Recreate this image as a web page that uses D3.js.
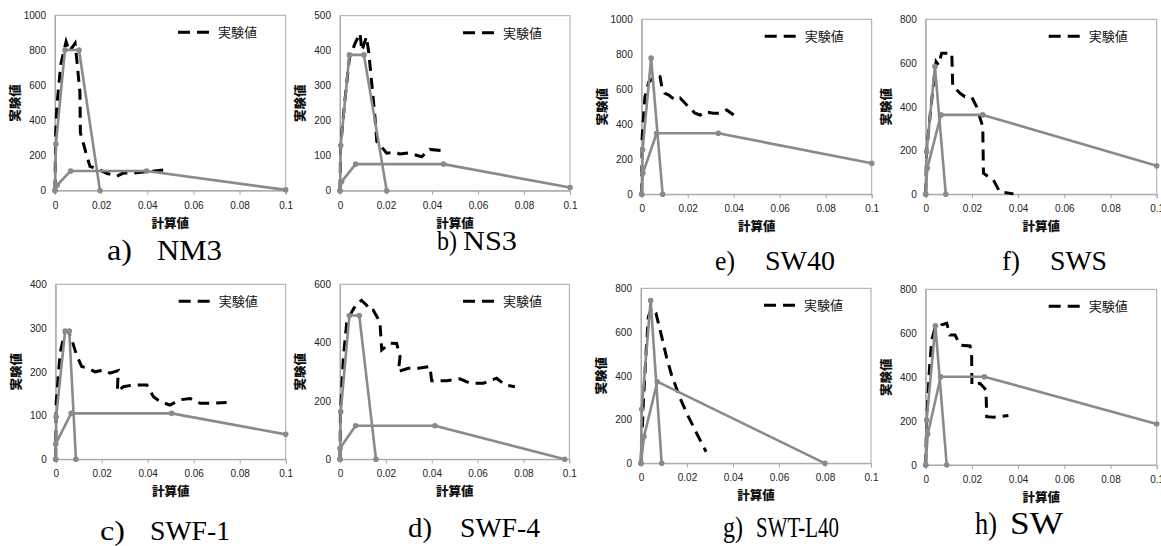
<!DOCTYPE html>
<html>
<head>
<meta charset="utf-8">
<script src="https://cdn.jsdelivr.net/npm/d3@7"></script>
<style>
  body { margin: 0; background: #fff; }
  svg { display: block; }
</style>
</head>
<body>
<div id="caja"></div>
<script>
// 計算値 / 実験値 : each panel has two gray calc lines and one dashed experiment line
var xTicks = [0, 0.02, 0.04, 0.06, 0.08, 0.1];

// a) NM3
var nm3Calc1 = [[0,0],[0.0004,266],[0.0043,802],[0.0104,802],[0.0195,0]];
var nm3Calc2 = [[0,0],[0.001,32],[0.0068,112],[0.0397,112],[0.1,4]];
var nm3Exp = [[0,0],[0.0003,330],[0.0008,480],[0.0015,580],[0.0025,720],[0.0048,850],[0.0062,793],[0.0087,840],[0.0095,740],[0.0108,560],[0.011,330],[0.0125,260],[0.0137,200],[0.0152,137],[0.0173,130],[0.0224,99],[0.0267,82],[0.0296,100],[0.034,100],[0.04,108],[0.047,118]];
var nm3YTicks = [0, 200, 400, 600, 800, 1000];

// b) NS3
var ns3Calc1 = [[0,0],[0.0003,129],[0.0041,388],[0.0104,388],[0.0203,0]];
var ns3Calc2 = [[0,0],[0.0007,26],[0.0068,76],[0.045,76],[0.1,9]];
var ns3Exp = [[0,0],[0.0003,130],[0.002,250],[0.0041,380],[0.0065,420],[0.0087,450],[0.0095,400],[0.0115,440],[0.0125,395],[0.0138,307],[0.0152,211],[0.016,140],[0.018,126],[0.0203,107],[0.024,110],[0.026,105],[0.0297,108],[0.0355,97],[0.039,118],[0.0457,114]];
var ns3YTicks = [0, 100, 200, 300, 400, 500];

// c) SWF-1
var swf1Calc1 = [[0,0],[0.0002,97],[0.0041,293],[0.0059,293],[0.0088,0]];
var swf1Calc2 = [[0,0],[0,35],[0.0067,105],[0.0504,105],[0.1,57]];
var swf1Exp = [[0,0],[0.0002,128],[0.0019,242],[0.004,293],[0.0055,292],[0.007,273],[0.0091,238],[0.0113,212],[0.0142,208],[0.0171,200],[0.0207,204],[0.0236,197],[0.0272,203],[0.0268,155],[0.0294,166],[0.0338,170],[0.0396,170],[0.0425,143],[0.0454,132],[0.0497,124],[0.054,136],[0.0584,139],[0.0628,128],[0.0686,128],[0.0743,130]];
var swf1YTicks = [0, 100, 200, 300, 400];

// d) SWF-4
var swf4Calc1 = [[0,0],[0.0003,163],[0.0041,493],[0.0084,493],[0.0157,0]];
var swf4Calc2 = [[0,0],[0,38],[0.0068,115],[0.0414,115],[0.098,0]];
var swf4Exp = [[0,0],[0.0002,160],[0.0015,352],[0.0029,466],[0.0051,505],[0.0073,534],[0.0094,545],[0.0116,528],[0.0131,509],[0.0145,511],[0.0174,471],[0.0182,375],[0.0218,398],[0.0247,397],[0.0262,352],[0.0254,301],[0.0298,312],[0.0342,312],[0.0392,318],[0.04,269],[0.0465,269],[0.0523,276],[0.0567,261],[0.0625,261],[0.0683,278],[0.072,255],[0.0763,249]];
var swf4YTicks = [0, 200, 400, 600];

// e) SW40
var sw40Calc1 = [[0,0],[0.0004,255],[0.0041,778],[0.0091,0]];
var sw40Calc2 = [[0,0],[0.0005,120],[0.0065,349],[0.0333,349],[0.1,177]];
var sw40Exp = [[0,0],[0.0002,330],[0.0014,558],[0.003,640],[0.0065,682],[0.008,672],[0.0087,615],[0.0101,577],[0.0116,568],[0.0145,539],[0.0167,550],[0.0196,510],[0.0232,463],[0.0254,453],[0.0275,472],[0.031,463],[0.034,463],[0.037,482],[0.04,453]];
var sw40YTicks = [0, 200, 400, 600, 800, 1000];

// f) SWS
var swsCalc1 = [[0,0],[0.0004,195],[0.004,584],[0.0087,0]];
var swsCalc2 = [[0,0],[0.0007,119],[0.0066,363],[0.0247,363],[0.1,130]];
var swsExp = [[0,0],[0.0004,200],[0.0026,431],[0.0045,606],[0.0055,591],[0.0069,645],[0.0113,645],[0.0117,492],[0.0127,485],[0.0149,462],[0.017,446],[0.02,443],[0.022,401],[0.0247,309],[0.025,96],[0.0293,66],[0.032,12],[0.038,2]];
var swsYTicks = [0, 200, 400, 600, 800];

// g) SWT-L40
var swtCalc1 = [[0,0],[0.0003,247],[0.0042,744],[0.009,0]];
var swtCalc2 = [[0,0],[0.0013,122],[0.0071,373],[0.08,0]];
var swtExp = [[0,0],[0.001,274],[0.0022,503],[0.0032,670],[0.0046,709],[0.0065,686],[0.009,579],[0.0112,480],[0.0133,404],[0.017,297],[0.0206,213],[0.0242,137],[0.0283,53]];
var swtYTicks = [0, 200, 400, 600, 800];

// h) SW
var swCalc1 = [[0,0],[0.0004,205],[0.0042,634],[0.0091,0]];
var swCalc2 = [[0,0],[0.0009,141],[0.0065,402],[0.0254,402],[0.1,187]];
var swExp = [[0,0],[0.0004,200],[0.0016,433],[0.0026,569],[0.004,622],[0.0062,630],[0.0069,638],[0.0091,645],[0.0105,592],[0.0127,592],[0.0149,546],[0.0192,542],[0.0199,493],[0.02,364],[0.0235,372],[0.0261,342],[0.0264,220],[0.0293,217],[0.0322,220],[0.0358,225]];
var swYTicks = [0, 200, 400, 600, 800];

var w = 1161, h = 546;
var gray = "#8a8a8a";

var chart = d3.select('#caja')
  .append('svg')
  .attr('width', w)
  .attr('height', h);

// placement of each small chart and its caption (x1/w1 = letter, x2/w2 = name)
var panels = [
  {c1: nm3Calc1, c2: nm3Calc2, exp: nm3Exp, yt: nm3YTicks, l: 55, t: 15.3, pw: 230.7, ph: 175.3,
   cap: "a)", name: "NM3", x1: 107, w1: 25, x2: 157, w2: 65, cy: 260, fs: 30},
  {c1: ns3Calc1, c2: ns3Calc2, exp: ns3Exp, yt: ns3YTicks, l: 340, t: 15.7, pw: 230, ph: 175,
   cap: "b)", name: "NS3", x1: 437, w1: 20, x2: 463, w2: 54, cy: 250, fs: 28},
  {c1: swf1Calc1, c2: swf1Calc2, exp: swf1Exp, yt: swf1YTicks, l: 55.7, t: 284.3, pw: 230, ph: 175,
   cap: "c)", name: "SWF-1", x1: 100, w1: 25, x2: 150, w2: 80, cy: 540, fs: 28},
  {c1: swf4Calc1, c2: swf4Calc2, exp: swf4Exp, yt: swf4YTicks, l: 340, t: 284.3, pw: 229.3, ph: 175,
   cap: "d)", name: "SWF-4", x1: 408, w1: 24, x2: 460, w2: 80, cy: 537, fs: 28},
  {c1: sw40Calc1, c2: sw40Calc2, exp: sw40Exp, yt: sw40YTicks, l: 641.7, t: 19.3, pw: 230, ph: 175,
   cap: "e)", name: "SW40", x1: 715, w1: 20, x2: 765, w2: 70, cy: 270, fs: 28},
  {c1: swsCalc1, c2: swsCalc2, exp: swsExp, yt: swsYTicks, l: 925.7, t: 19.3, pw: 231, ph: 175,
   cap: "f)", name: "SWS", x1: 1002, w1: 18, x2: 1050, w2: 57, cy: 270, fs: 28},
  {c1: swtCalc1, c2: swtCalc2, exp: swtExp, yt: swtYTicks, l: 641, t: 288.3, pw: 230, ph: 175,
   cap: "g)", name: "SWT-L40", x1: 723, w1: 20, x2: 756, w2: 83, cy: 537, fs: 29},
  {c1: swCalc1, c2: swCalc2, exp: swExp, yt: swYTicks, l: 925.7, t: 289.3, pw: 231, ph: 175.7,
   cap: "h)", name: "SW", x1: 975, w1: 22, x2: 1010, w2: 53, cy: 534, fs: 31}
];

panels.forEach(function(p) {
  var x = d3.scaleLinear().domain([0, 0.1]).range([p.l, p.l + p.pw]);
  var y = d3.scaleLinear().domain([0, d3.max(p.yt)]).range([p.t + p.ph, p.t]);
  var g = chart.append("g");

  // plot frame
  g.append("rect")
    .attr("x", p.l).attr("y", p.t)
    .attr("width", p.pw).attr("height", p.ph)
    .attr("fill", "none")
    .attr("stroke", "#a8a8a8")
    .attr("stroke-width", 1);

  // x axis
  var xa = g.append("g")
    .attr("transform", "translate(0," + (p.t + p.ph) + ")")
    .call(d3.axisBottom(x).tickValues(xTicks).tickSize(4).tickPadding(7)
      .tickFormat(function(d) { return d === 0 ? "0" : String(+d.toFixed(2)); }));
  xa.select(".domain").attr("stroke", "#a8a8a8");
  xa.selectAll("line").attr("stroke", "#a8a8a8");
  xa.selectAll("text").attr("font-family", "Liberation Sans, Arial, sans-serif")
    .attr("font-size", "10px").attr("fill", "#222");

  // y axis
  var ya = g.append("g")
    .attr("transform", "translate(" + p.l + ",0)")
    .call(d3.axisLeft(y).tickValues(p.yt).tickSize(0).tickPadding(9).tickFormat(d3.format("d")));
  ya.select(".domain").attr("stroke", "#a8a8a8");
  ya.selectAll("text").attr("font-family", "Liberation Sans, Arial, sans-serif")
    .attr("font-size", "10px").attr("fill", "#222");

  var line = d3.line()
    .x(function(d) { return x(d[0]); })
    .y(function(d) { return y(d[1]); });

  // experiment (dashed)
  g.append("path")
    .datum(p.exp)
    .attr("d", line)
    .attr("fill", "none")
    .attr("stroke", "#000")
    .attr("stroke-width", 3)
    .attr("stroke-dasharray", "11,7");

  // calc lines with markers
  [p.c1, p.c2].forEach(function(s) {
    g.append("path")
      .datum(s)
      .attr("d", line)
      .attr("fill", "none")
      .attr("stroke", gray)
      .attr("stroke-width", 2.6)
      .attr("stroke-linejoin", "round");
    g.selectAll(null)
      .data(s)
      .enter()
      .append("circle")
      .attr("cx", function(d) { return x(d[0]); })
      .attr("cy", function(d) { return y(d[1]); })
      .attr("r", 2.8)
      .style("fill", gray);
  });

  // legend
  g.append("line")
    .attr("x1", p.l + 123).attr("x2", p.l + 154)
    .attr("y1", p.t + 17).attr("y2", p.t + 17)
    .attr("stroke", "#000").attr("stroke-width", 3)
    .attr("stroke-dasharray", "12,7");
  g.append("text")
    .text("実験値")
    .attr("x", p.l + 163)
    .attr("y", p.t + 22)
    .attr("font-family", "Noto Sans CJK JP")
    .attr("font-size", "13px")
    .attr("fill", "#111");

  // axis titles
  g.append("text")
    .text("計算値")
    .attr("x", p.l + p.pw / 2)
    .attr("y", p.t + p.ph + 37)
    .attr("text-anchor", "middle")
    .attr("font-family", "Noto Sans CJK JP")
    .attr("font-weight", "900")
    .attr("font-size", "12.5px")
    .attr("fill", "#111");
  g.append("text")
    .text("実験値")
    .attr("transform", "translate(" + (p.l - 35) + "," + (p.t + p.ph / 2) + ") rotate(-90)")
    .attr("text-anchor", "middle")
    .attr("font-family", "Noto Sans CJK JP")
    .attr("font-weight", "900")
    .attr("font-size", "12.5px")
    .attr("fill", "#111");

  // caption
  [[p.cap, p.x1, p.w1], [p.name, p.x2, p.w2]].forEach(function(c) {
    g.append("text")
      .text(c[0])
      .attr("x", c[1]).attr("y", p.cy)
      .attr("textLength", c[2])
      .attr("lengthAdjust", "spacingAndGlyphs")
      .attr("font-family", "Liberation Serif, Times New Roman, serif")
      .attr("font-size", p.fs + "px")
      .attr("fill", "#000");
  });
});
</script>
</body>
</html>
